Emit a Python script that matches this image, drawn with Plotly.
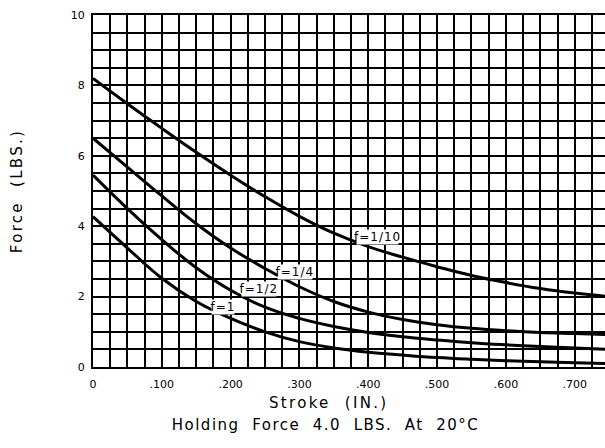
import plotly.graph_objects as go

stroke = [0.0, 0.05, 0.10, 0.15, 0.20, 0.25, 0.30, 0.35, 0.40, 0.45, 0.50, 0.55, 0.60, 0.65, 0.70, 0.75]
force_f_1_10 = [8.2, 7.48, 6.78, 6.1, 5.45, 4.84, 4.28, 3.8, 3.42, 3.12, 2.85, 2.6, 2.4, 2.23, 2.1, 2.0]
force_f_1_4 = [6.5, 5.68, 4.86, 4.07, 3.38, 2.8, 2.28, 1.86, 1.56, 1.35, 1.2, 1.1, 1.03, 0.98, 0.95, 0.92]
force_f_1_2 = [5.45, 4.5, 3.62, 2.82, 2.18, 1.7, 1.38, 1.15, 0.98, 0.86, 0.77, 0.69, 0.63, 0.58, 0.54, 0.5]
force_f_1 = [4.27, 3.38, 2.52, 1.86, 1.38, 1.0, 0.72, 0.54, 0.42, 0.34, 0.27, 0.22, 0.18, 0.15, 0.12, 0.1]

series = [("f=1/10", force_f_1_10), ("f=1/4", force_f_1_4), ("f=1/2", force_f_1_2), ("f=1", force_f_1)]

labels = ["f=1/10", "f=1/4", "f=1/2", "f=1"]
label_x = [0.413, 0.294, 0.241, 0.189]
label_y = [3.69, 2.70, 2.22, 1.70]

x_tickvals = [0, 0.1, 0.2, 0.3, 0.4, 0.5, 0.6, 0.7]
x_ticktext = ["0", ".100", ".200", ".300", ".400", ".500", ".600", ".700"]
y_tickvals = [0, 2, 4, 6, 8, 10]
y_ticktext = ["0", "2", "4", "6", "8", "10"]

FONT = "DejaVu Sans"

fig = go.Figure()
for name, ys in series:
    fig.add_trace(go.Scatter(x=stroke, y=ys, mode="lines", name=name,
                             line=dict(color="black", width=3, shape="spline", smoothing=1.2),
                             showlegend=False, hoverinfo="skip"))

for t, lx, ly in zip(labels, label_x, label_y):
    fig.add_annotation(x=lx, y=ly, text=t, showarrow=False, bgcolor="white",
                       font=dict(family=FONT, size=12, color="black"), borderpad=0)

fig.add_annotation(x=0.459, y=-0.102, xref="paper", yref="paper", yanchor="middle", xanchor="center",
                   text="Stroke\u00a0\u00a0(IN.)",
                   showarrow=False, font=dict(family=FONT, size=15, color="black"))
fig.add_annotation(x=0.455, y=-0.165, xref="paper", yref="paper", yanchor="middle", xanchor="center",
                   text="Holding\u00a0\u00a0Force\u00a0\u00a04.0\u00a0\u00a0LBS.\u00a0\u00a0At\u00a0\u00a020\u00b0C",
                   showarrow=False, font=dict(family=FONT, size=15, color="black"))

fig.update_layout(
    width=605, height=448,
    margin=dict(l=93, r=0, t=15, b=81),
    paper_bgcolor="white", plot_bgcolor="white",
    xaxis=dict(range=[0, 0.744], tickvals=x_tickvals, ticktext=x_ticktext,
               showgrid=True, gridcolor="black", gridwidth=1.5,
               minor=dict(dtick=0.025, tick0=0, showgrid=True, gridcolor="black", gridwidth=1.5),
               showline=True, linecolor="black", linewidth=2, mirror=True,
               zeroline=False, ticks="", ticklen=0, ticklabelstandoff=6,
               tickfont=dict(family=FONT, size=11, color="black")),
    yaxis=dict(range=[0, 10], tickvals=y_tickvals, ticktext=y_ticktext,
               showgrid=True, gridcolor="black", gridwidth=1.5,
               minor=dict(dtick=0.5, tick0=0, showgrid=True, gridcolor="black", gridwidth=1.5),
               showline=True, linecolor="black", linewidth=2, mirror=False,
               zeroline=False, ticks="", ticklen=0, ticklabelstandoff=4,
               title=dict(text="Force\u00a0\u00a0(LBS.)", standoff=45,
                          font=dict(family=FONT, size=15, color="black")),
               tickfont=dict(family=FONT, size=11, color="black")),
)

post = """
document.body.style.margin='0';
document.body.style.padding='0';
var gd = document.getElementById('{plot_id}');
gd.querySelectorAll('text').forEach(function(t){
  var s = t.textContent;
  if (s.indexOf('Stroke')===0 || s.indexOf('Force')===0) { t.style.letterSpacing='2.3px'; }
  else if (s.indexOf('Holding')===0) { t.style.letterSpacing='1.5px'; }
  else if (s.indexOf('f=')===0) { t.style.letterSpacing='1px'; }
});
"""

fig.write_html("out.html", post_script=post, config={"displayModeBar": False})
